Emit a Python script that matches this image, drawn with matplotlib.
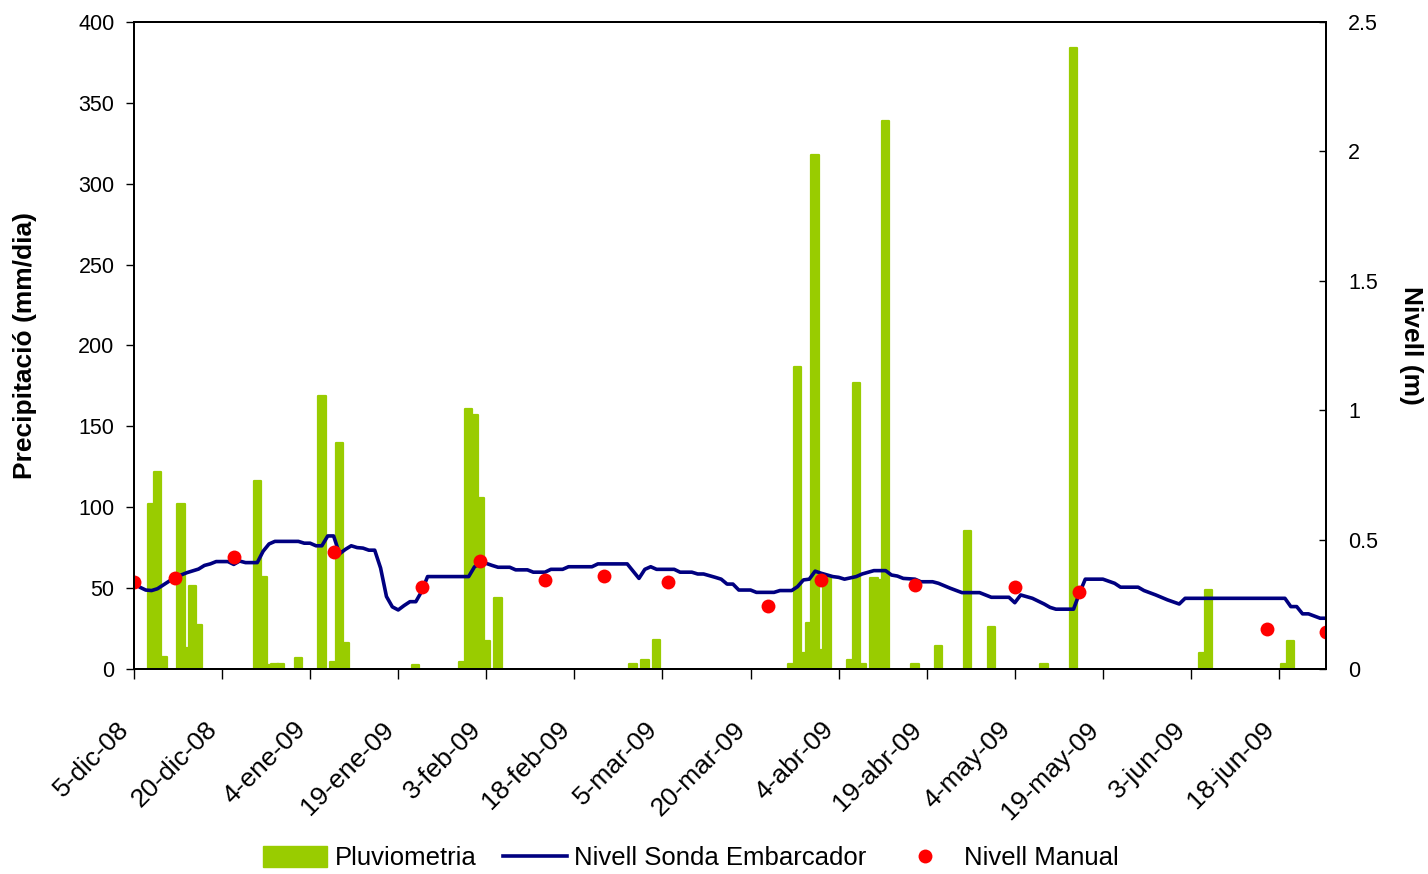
import pandas as pd
import matplotlib
matplotlib.use('Agg')
from matplotlib import pyplot as plt
from matplotlib.lines import Line2D
from matplotlib.patches import Patch

plt.rcParams['font.family'] = ['Liberation Sans', 'DejaVu Sans']

start = pd.Timestamp('2008-12-05')
end = pd.Timestamp('2009-06-26')

# daily rainfall (mm/dia), day = days since 5-dic-08
rain_day = [3, 4, 5, 8, 9, 10, 11, 21, 22, 23, 24, 25, 28, 32, 34, 35, 36, 48,
            56, 57, 58, 59, 60, 62, 85, 87, 89, 112, 113, 114, 115, 116, 117,
            118, 122, 123, 124, 126, 127, 128, 133, 137, 142, 146, 155, 160,
            182, 183, 196, 197]
rain_mm = [102, 122, 7.5, 102, 13, 51, 27, 116, 57, 2.5, 3, 3, 7, 169, 4, 140,
           16, 2.5, 4, 161, 157, 106, 17, 44, 3, 5.5, 18, 3, 187, 10, 28.5,
           318, 12, 57, 5.5, 177, 3, 56, 55, 339, 3, 14, 85, 26, 3, 384,
           10, 49, 3, 17]

# probe level (m)
probe_day = [0, 1, 2, 3, 4, 7, 9, 11, 12, 13, 14, 16, 17, 18, 19, 21, 22, 23,
             24, 28, 29, 30, 31, 32, 33, 34, 35, 36, 37, 38, 39, 40, 41, 42,
             43, 44, 45, 46, 47, 48, 49, 50, 57, 58, 59, 60, 61, 62, 64, 65,
             67, 68, 70, 71, 73, 74, 78, 79, 84, 86, 87, 88, 89, 92, 93, 95,
             96, 97, 99, 100, 101, 102, 103, 105, 106, 109, 110, 112, 113,
             114, 115, 116, 117, 119, 120, 121, 123, 124, 126, 128, 129, 130,
             131, 133, 134, 136, 137, 139, 141, 144, 146, 149, 150, 151, 153,
             155, 156, 157, 160, 161, 162, 165, 167, 168, 171, 172, 174, 176,
             178, 179, 196, 197, 198, 199, 200, 202, 203]
probe_m = [0.331, 0.316, 0.305, 0.303, 0.31, 0.354, 0.372, 0.386, 0.40, 0.406,
           0.415, 0.415, 0.404, 0.417, 0.411, 0.411, 0.455, 0.483, 0.493,
           0.493, 0.486, 0.486, 0.476, 0.476, 0.514, 0.514, 0.445, 0.462,
           0.476, 0.469, 0.467, 0.459, 0.459, 0.39, 0.28, 0.24, 0.228, 0.245,
           0.26, 0.26, 0.30, 0.357, 0.357, 0.395, 0.408, 0.408, 0.40, 0.393,
           0.393, 0.383, 0.383, 0.374, 0.374, 0.385, 0.385, 0.395, 0.395,
           0.406, 0.406, 0.35, 0.385, 0.395, 0.385, 0.385, 0.374, 0.374,
           0.367, 0.367, 0.354, 0.347, 0.328, 0.328, 0.305, 0.305, 0.296,
           0.296, 0.303, 0.303, 0.318, 0.344, 0.347, 0.378, 0.37, 0.357,
           0.354, 0.347, 0.357, 0.367, 0.38, 0.38, 0.363, 0.359, 0.35, 0.347,
           0.337, 0.337, 0.331, 0.312, 0.295, 0.295, 0.277, 0.277, 0.256,
           0.286, 0.273, 0.251, 0.238, 0.231, 0.231, 0.292, 0.347, 0.347,
           0.331, 0.316, 0.316, 0.303, 0.286, 0.267, 0.251, 0.273, 0.273,
           0.241, 0.241, 0.213, 0.213, 0.196, 0.196]

# manual readings (m)
manual_day = [0, 7, 17, 34, 49, 59, 70, 80, 91, 108, 117, 133, 150, 161, 193, 203]
manual_m = [0.337, 0.353, 0.434, 0.453, 0.318, 0.417, 0.344, 0.361, 0.335,
            0.245, 0.344, 0.325, 0.318, 0.299, 0.155, 0.144]

months_es = ['ene', 'feb', 'mar', 'abr', 'may', 'jun',
             'jul', 'ago', 'sep', 'oct', 'nov', 'dic']

green = '#99cc00'
navy = '#000080'


def to_dates(days):
    return start + pd.to_timedelta(days, unit='D')


fig = plt.figure(figsize=(14.28, 8.74), dpi=100)
ax = fig.add_axes([0.0938, 0.2346, 0.8348, 0.7402])
ax2 = ax.twinx()

ax.bar(to_dates(rain_day), rain_mm, width=1.25, color=green, edgecolor=green,
       linewidth=1.6, joinstyle='round')
ax2.plot(to_dates(probe_day), probe_m, color=navy, linewidth=2.6)
ax2.plot(to_dates(manual_day), manual_m, 'o', color='red', markersize=10,
         markeredgewidth=0)

ax.set_xlim(start, end)
ax.set_ylim(0, 400)
ax2.set_ylim(0, 2.5)
ax.set_yticks(range(0, 401, 50))
ax2.set_yticks([0, 0.5, 1, 1.5, 2, 2.5])
ax2.set_yticklabels(['0', '0.5', '1', '1.5', '2', '2.5'])

ticks = pd.date_range(start, end, freq='15D')
ax.set_xticks(ticks)
ax.set_xticklabels(['%d-%s-%s' % (t.day, months_es[t.month - 1], t.strftime('%y'))
                    for t in ticks],
                   rotation=45, ha='right', va='bottom', rotation_mode='anchor')

for a in (ax, ax2):
    for s in a.spines.values():
        s.set_linewidth(1.4)
ax.tick_params(axis='y', direction='out', length=6, width=1, labelsize=15.5, pad=8)
ax.tick_params(axis='x', direction='out', length=7, width=1, labelsize=19, pad=40)
ax2.tick_params(axis='y', direction='in', length=5, width=1, labelsize=15.5, pad=16)

ax.set_ylabel('Precipitació (mm/dia)', fontsize=19, fontweight='bold')
ax.yaxis.set_label_coords(-0.081, 0.5)
ax2.set_ylabel('Nivell (m)', fontsize=19, fontweight='bold', rotation=-90)
ax2.yaxis.set_label_coords(1.081, 0.5)

handles = [Patch(color=green),
           Line2D([], [], color=navy, linewidth=2.6),
           Line2D([], [], marker='o', color='red', linestyle='none',
                  markersize=10, markeredgewidth=0)]
fig.legend(handles, ['Pluviometria', 'Nivell Sonda Embarcador', 'Nivell Manual'],
           loc='center', bbox_to_anchor=(0.484, 0.018), ncol=3, frameon=False,
           fontsize=18.5, handlelength=2.5, handleheight=0.85, columnspacing=1.0,
           handletextpad=0.3)

fig.savefig('out.png', dpi=100)
